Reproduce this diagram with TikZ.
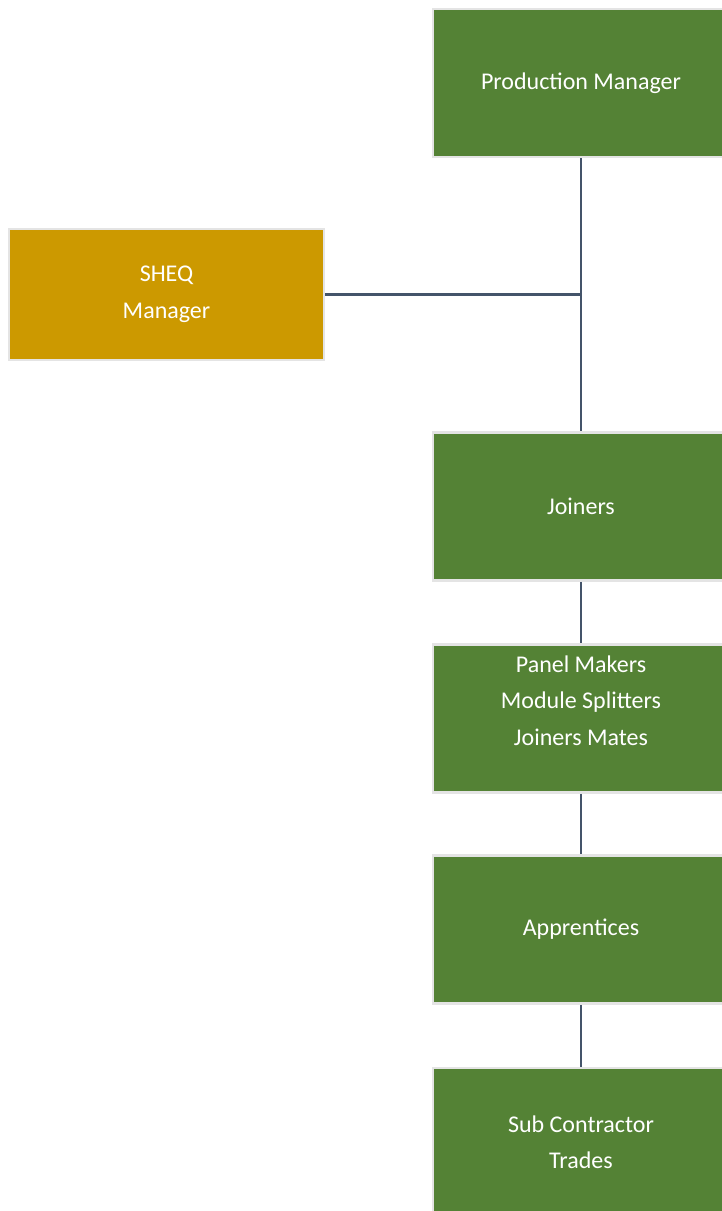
\documentclass[tikz,border=0pt]{standalone}
\usepackage{fontspec}
\setmainfont{Carlito}
\definecolor{boxgreen}{HTML}{548235}
\definecolor{boxgold}{HTML}{CC9900}
\definecolor{linecol}{HTML}{44546A}
\definecolor{edgegray}{HTML}{E4E4E4}
\tikzset{
  orgbox/.style={draw=edgegray, line width=2.5pt, fill=boxgreen, text=white,
    minimum width=296pt, minimum height=148pt, inner sep=0pt, align=center,
    font=\fontsize{24}{36.5}\selectfont},
  goldbox/.style={orgbox, fill=boxgold, minimum width=315pt, minimum height=131pt},
  conn/.style={draw=linecol, line width=2.5pt}
}
\begin{document}
\begin{tikzpicture}[x=1pt,y=-1pt]
\useasboundingbox (0,0) rectangle (722,1211);
\clip (0,0) rectangle (722,1211);
\node[orgbox] (pm) at (581,83) {Production Manager};
\node[goldbox] (sheq) at (166.5,294.5) {SHEQ\\Manager};
\node[orgbox] (join) at (581,506.5) {Joiners};
\node[orgbox] (panel) at (581,718.5) {Panel Makers\\Module Splitters\\Joiners Mates\\~};
\node[orgbox] (appr) at (581,929.5) {Apprentices};
\node[orgbox] (sub) at (581,1142) {Sub Contractor\\Trades};
\coordinate (junc) at (pm.south |- sheq.east);
\draw[conn] (pm.south) -- (join.north);
\draw[conn] (sheq.east) -- (junc);
\draw[conn] (join.south) -- (panel.north);
\draw[conn] (panel.south) -- (appr.north);
\draw[conn] (appr.south) -- (sub.north);
\end{tikzpicture}
\end{document}
